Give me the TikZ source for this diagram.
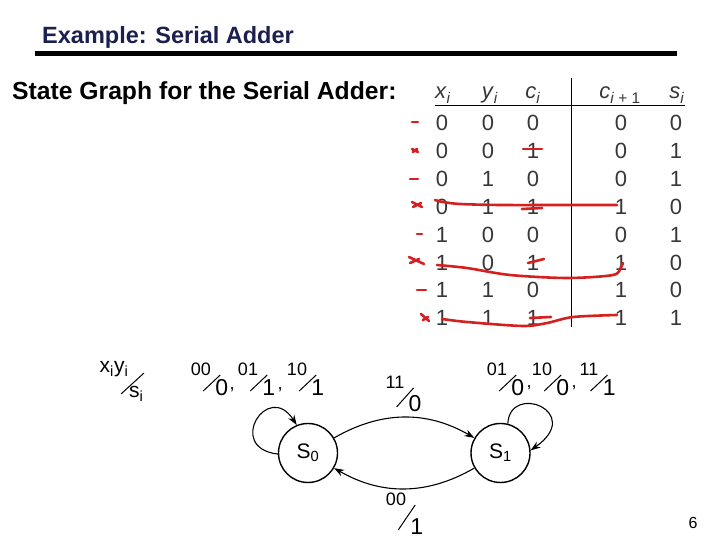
\documentclass[tikz,border=0pt]{standalone}
\usepackage{fontspec}
\setmainfont{Liberation Sans}
\usetikzlibrary{arrows.meta}
\usetikzlibrary{calc}

\definecolor{titlenavy}{RGB}{28,32,78}
\definecolor{inkred}{RGB}{214,32,32}
\definecolor{tablegray}{RGB}{55,55,55}

\tikzset{
  state/.style={draw, circle, line width=1.4pt, minimum size=59pt, inner sep=0pt, font=\fontsize{21}{21}\selectfont},
  trans/.style={-{Stealth[length=10pt,width=7pt]}, line width=1.1pt},
  iotext/.style={inner sep=0pt, font=\fontsize{18}{18}\selectfont},
  iobig/.style={inner sep=0pt, font=\fontsize{23}{23}\selectfont},
  keytext/.style={inner sep=0pt, font=\fontsize{21}{21}\selectfont},
  cell/.style={inner sep=0pt, text=tablegray, font=\fontsize{22}{22}\selectfont},
  pen/.style={inkred, line width=2.6pt, line cap=round, line join=round},
}

% input/output label: [drop], name, position, input, output
\newcommand{\iolabel}[5][19]{%
  \node[iotext] (#2in) at (#3) {#4};
  \node[iobig, anchor=west] (#2out) at ($(#2in.east)+(4,-#1)$) {#5};
  \draw[line width=1pt] ($(#2in.east)+(-8,-#1-3)$) -- ($(#2in.east)+(9,-6)$);
}

\begin{document}
\begin{tikzpicture}[x=1pt, y=1pt]
  \useasboundingbox (0,0) rectangle (720,540);

  % heading
  \node[anchor=base west, inner sep=0pt, text=titlenavy, font=\fontsize{23.5}{24}\selectfont\bfseries] (title) at (42,496) {Example: Serial Adder};
  \draw[line width=5pt] (35,486) -- (677,486);
  \node[anchor=base west, inner sep=0pt, font=\fontsize{24.7}{25}\selectfont\bfseries] (subtitle) at (12,440) {State Graph for the Serial Adder:};

  % truth table
  \foreach \nm/\xx/\txt in {hx/443/x, hy/490/y, hc/533/c, hs/677/s}
    \node[cell, anchor=base] (\nm) at (\xx,441) {\textit{\txt}\textsubscript{\textit{i}}};
  \node[cell, anchor=base] (hcn) at (620,441) {\textit{c}\textsubscript{\textit{i} + 1}};
  \draw[line width=0.8pt] (435,435) -- (685,435);
  \draw[line width=0.8pt] (571,462) -- (571,213);

  \foreach \xv/\yv/\cv/\cn/\sv [count=\r from 0] in
      {0/0/0/0/0, 0/0/1/0/1, 0/1/0/0/1, 0/1/1/1/0,
       1/0/0/0/1, 1/0/1/1/0, 1/1/0/1/0, 1/1/1/1/1} {
    \node[cell] (x\r) at (442,{417-27.9*\r}) {\xv};
    \node[cell] (y\r) at (488,{417-27.9*\r}) {\yv};
    \node[cell] (c\r) at (533,{417-27.9*\r}) {\cv};
    \node[cell] (n\r) at (621,{417-27.9*\r}) {\cn};
    \node[cell] (s\r) at (676,{417-27.9*\r}) {\sv};
  }

  % red pen marks
  \draw[pen] (412,418) -- (418,418);
  \draw[pen] (410,361) -- (418,361);
  \draw[pen] (417,306) -- (422,306);
  \draw[pen] (417,250) -- (426,250);
  \draw[pen] (412,391) -- (418,388) (413,388) -- (417,391);
  \draw[pen] (412,338) -- (422,333) (413,333) -- (421,337);
  \draw[pen] (409,283) -- (424,276) (410,277) -- (419,281);
  \draw[pen] (421,226) -- (429,219) (423,220) -- (428,223);
  \draw[pen] (523,391) -- (542,391);
  \draw[pen] (522,331) -- (542,332);
  \draw[pen] (528,277) -- (544,281);
  \draw[pen] (530,222) -- (551,223);
  \draw[pen] plot[smooth] coordinates {(435,340) (443,338) (460,336) (500,335) (567,335) (617,335)};
  \draw[pen] plot[smooth] coordinates {(437,275) (467,272) (510,265) (567,262) (613,265) (621,273) (623,277)};
  \draw[pen] plot[smooth] coordinates {(442,221) (467,218) (523,214) (547,217) (573,223) (617,225)};

  % state graph
  \node[state] (s0) at (308,87) {S\textsubscript{0}};
  \node[state] (s1) at (500.5,87) {S\textsubscript{1}};
  \draw[trans] (s0) to[bend left=30] (s1);
  \draw[trans] (s1) to[bend left=30] (s0);
  \draw[trans] (s0.182) .. controls (225,92) and (268,160) .. (s0.112);
  \draw[trans] (s1.76) .. controls (510,158) and (585,128) .. (s1.5);

  \node[keytext, anchor=base] (keyin) at (114,167) {x\textsubscript{i}y\textsubscript{i}};
  \node[keytext, anchor=base west] (keyout) at (129,142) {s\textsubscript{i}};
  \draw[line width=1pt] (121,146) -- (144,167);

  \iolabel{la}{201,171}{00}{0}
  \iolabel{lb}{248,171}{01}{1}
  \iolabel{lc}{297,171}{10}{1}
  \node[iotext] (ca) at (232,150) {,};
  \node[iotext] (cb) at (280,150) {,};
  \iolabel[22]{ld}{395,158}{11}{0}
  \iolabel{le}{497,171}{01}{0}
  \iolabel{lf}{542,171}{10}{0}
  \iolabel{lg}{589,171}{11}{1}
  \node[iotext] (cc) at (529,152) {,};
  \node[iotext] (cd) at (574,152) {,};
  \iolabel[28]{lh}{396,41}{00}{1}

  \node[inner sep=0pt, font=\fontsize{16}{16}\selectfont] (page) at (693,17) {6};
\end{tikzpicture}
\end{document}
